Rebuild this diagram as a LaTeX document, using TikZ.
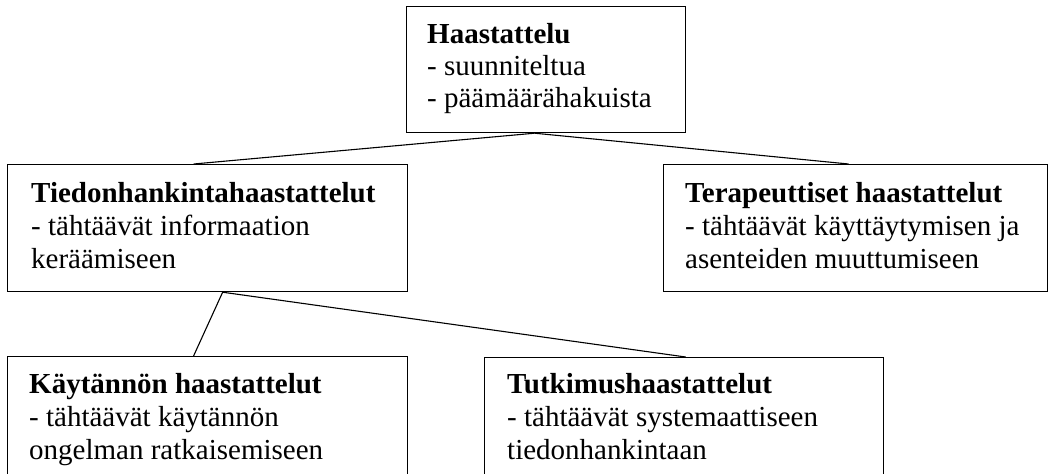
\documentclass[tikz,border=0pt]{standalone}
\usepackage{fontspec}
\setmainfont{Liberation Serif}
\usetikzlibrary{calc}
\tikzset{
  box/.style={draw, line width=1.2pt, anchor=north west, inner sep=0pt, rectangle},
  txt/.style={anchor=base west, inner sep=0pt, align=left, font=\fontsize{29}{33}\selectfont},
  conn/.style={line width=1.1pt}
}
\begin{document}
\begin{tikzpicture}[x=1pt,y=-1pt]
\useasboundingbox (0,0) rectangle (1050,474);
\clip (0,0) rectangle (1050,474);
\node[box, minimum width=279pt, minimum height=126pt] (top) at (406,6) {};
\node[box, minimum width=400pt, minimum height=127pt] (tied) at (7,164) {};
\node[box, minimum width=384pt, minimum height=127pt] (tera) at (663,164) {};
\node[box, minimum width=400pt, minimum height=130pt] (kay) at (7,356) {};
\node[box, minimum width=399pt, minimum height=130pt] (tut) at (484,357) {};

\node[txt, font=\fontsize{29}{32}\selectfont] (topt) at (427,107) {\textbf{Haastattelu}\\- suunniteltua\\- päämäärähakuista};
\node[txt] (tiedt) at (31,268) {\textbf{Tiedonhankintahaastattelut}\\- tähtäävät informaation\\keräämiseen};
\node[txt] (terat) at (685,268) {\textbf{Terapeuttiset haastattelut}\\- tähtäävät käyttäytymisen ja\\asenteiden muuttumiseen};
\node[txt] (kayt) at (29,459) {\textbf{Käytännön haastattelut}\\- tähtäävät käytännön\\ongelman ratkaisemiseen};
\node[txt] (tutt) at (507,459) {\textbf{Tutkimushaastattelut}\\- tähtäävät systemaattiseen\\tiedonhankintaan};

\coordinate (topb) at ($(top.south west)!0.459!(top.south east)$);
\coordinate (tiedtop) at ($(tied.north west)!0.465!(tied.north east)$);
\coordinate (teratop) at ($(tera.north west)!0.482!(tera.north east)$);
\coordinate (tiedb) at ($(tied.south west)!0.5375!(tied.south east)$);
\coordinate (kaytop) at ($(kay.north west)!0.465!(kay.north east)$);
\coordinate (tuttop) at ($(tut.north west)!0.504!(tut.north east)$);
\draw[conn] (topb) -- (tiedtop);
\draw[conn] (topb) -- (teratop);
\draw[conn] (tiedb) -- (kaytop);
\draw[conn] (tiedb) -- (tuttop);
\end{tikzpicture}
\end{document}
